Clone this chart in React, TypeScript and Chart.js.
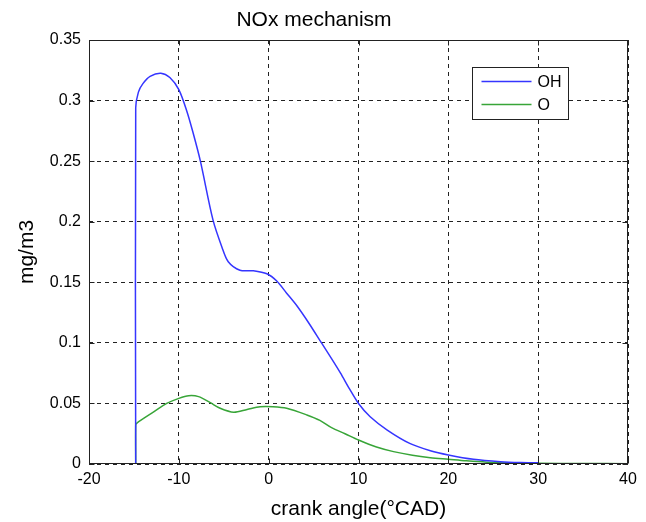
import React, { useEffect, useRef } from "react";
import { Chart, registerables } from "chart.js";

Chart.register(...registerables);

const chartTitle = "NOx mechanism";
const xAxisTitle = "crank angle(°CAD)";
const yAxisTitle = "mg/m3";
const seriesNames = ["OH", "O"];
const seriesColors = ["#3535ff", "#38a538"];

const xTickValues = [-20, -10, 0, 10, 20, 30, 40];
const yTickValues = [0, 0.05, 0.1, 0.15, 0.2, 0.25, 0.3, 0.35];
const yTickLabels = ["0", "0.05", "0.1", "0.15", "0.2", "0.25", "0.3", "0.35"];

const ohAngle = [
  -14.8, -14.8, -14.5, -14.0, -13.2, -12.0, -11.0, -10.0, -9.1, -8.4, -7.6, -6.2, -5.2, -4.5, -3.2, -1.7,
  -0.2, 0.9, 2.0, 3.2, 4.5, 5.9, 7.0, 8.0, 9.0, 10.0, 11.3, 13.2, 15.7, 18.0, 20.0, 22.8, 25.8, 28.0, 30.0,
];
const ohValue = [
  0, 0.294, 0.307, 0.314, 0.32, 0.3226, 0.319, 0.309, 0.291, 0.273, 0.25, 0.2015, 0.179, 0.167, 0.16, 0.1595,
  0.157, 0.151, 0.141, 0.13, 0.116, 0.0997, 0.087, 0.075, 0.062, 0.05, 0.039, 0.028, 0.017, 0.011, 0.0075,
  0.0039, 0.0019, 0.0012, 0.001,
];

const oAngle = [
  -14.8, -14.8, -14.7, -12.8, -11.35, -10.0, -8.9, -7.8, -6.5, -5.4, -3.9, -2.4, -0.95, 0.5, 2.0, 4.25, 5.7,
  7.0, 8.5, 10.0, 12.0, 13.9, 16.0, 18.0, 20.0, 22.0, 24.3, 27.0, 30.0, 35.0, 40.0,
];
const oValue = [
  0, 0.032, 0.0336, 0.043, 0.05, 0.0542, 0.0564, 0.0556, 0.0506, 0.046, 0.0427, 0.045, 0.0473, 0.0473, 0.046,
  0.0405, 0.036, 0.03, 0.025, 0.0198, 0.014, 0.0102, 0.0072, 0.0052, 0.0039, 0.0026, 0.0015, 0.0009, 0.0006,
  0.0004, 0.0003,
];

const FONT = "'Liberation Sans', Arial, Helvetica, sans-serif";

const framePlugin = {
  id: "matlabFrame",
  afterDraw(chart: any) {
    const { ctx, chartArea } = chart;
    const l = Math.round(chartArea.left) + 0.5;
    const r = Math.round(chartArea.right) - 0.5;
    const t = Math.round(chartArea.top) + 0.5;
    const b = Math.round(chartArea.bottom) - 0.5;
    ctx.save();
    ctx.setLineDash([]);
    ctx.strokeStyle = "#222";
    ctx.lineWidth = 1;
    ctx.strokeRect(l, t, r - l, b - t);
    const xs = chart.scales.x;
    const ys = chart.scales.y;
    const tl = 5;
    ctx.beginPath();
    xTickValues.forEach((v) => {
      const px = Math.round(xs.getPixelForValue(v)) + 0.5;
      ctx.moveTo(px, b);
      ctx.lineTo(px, b - tl);
      ctx.moveTo(px, t);
      ctx.lineTo(px, t + tl);
    });
    yTickValues.forEach((v) => {
      const py = Math.round(ys.getPixelForValue(v)) + 0.5;
      ctx.moveTo(l, py);
      ctx.lineTo(l + tl, py);
      ctx.moveTo(r, py);
      ctx.lineTo(r - tl, py);
    });
    ctx.stroke();

    // legend box inside axes (top-right)
    const bx = Math.round(chartArea.right - 156) + 0.5;
    const by = Math.round(chartArea.top + 27) + 0.5;
    const bw = 96;
    const bh = 52;
    ctx.fillStyle = "#fff";
    ctx.fillRect(bx, by, bw, bh);
    ctx.strokeStyle = "#222";
    ctx.strokeRect(bx, by, bw, bh);
    ctx.font = `16px ${FONT}`;
    ctx.textBaseline = "middle";
    ctx.textAlign = "left";
    chart.data.datasets.forEach((ds: any, i: number) => {
      const yy = by + 14 + i * 23;
      ctx.strokeStyle = ds.borderColor;
      ctx.lineWidth = 1.5;
      ctx.beginPath();
      ctx.moveTo(bx + 9, yy);
      ctx.lineTo(bx + 59, yy);
      ctx.stroke();
      ctx.fillStyle = "#000";
      ctx.fillText(ds.label, bx + 65, yy + 1);
    });
    ctx.restore();
  },
};

export default function App() {
  const canvasRef = useRef<HTMLCanvasElement | null>(null);

  useEffect(() => {
    if (!canvasRef.current) return;
    const toPoints = (xs: number[], ys: number[]) => xs.map((x, i) => ({ x, y: ys[i] }));
    const chart = new Chart(canvasRef.current, {
      type: "line",
      data: {
        datasets: [
          {
            label: seriesNames[0],
            data: toPoints(ohAngle, ohValue),
            borderColor: seriesColors[0],
            borderWidth: 1.5,
            pointRadius: 0,
            tension: 0.3,
            fill: false,
          },
          {
            label: seriesNames[1],
            data: toPoints(oAngle, oValue),
            borderColor: seriesColors[1],
            borderWidth: 1.5,
            pointRadius: 0,
            tension: 0.3,
            fill: false,
          },
        ],
      },
      options: {
        animation: false,
        responsive: true,
        maintainAspectRatio: false,
        layout: { padding: { left: 0, right: 18, top: 0, bottom: 0 } },
        plugins: {
          legend: { display: false },
          tooltip: { enabled: false },
          title: {
            display: true,
            text: chartTitle,
            color: "#000",
            font: { family: FONT, size: 21, weight: "normal", lineHeight: 1.2 },
            padding: { top: 8, bottom: 6.8 },
          },
        },
        scales: {
          x: {
            type: "linear",
            min: -20,
            max: 40,
            afterFit: (s: any) => {
              s.height = 58;
            },
            afterBuildTicks: (s: any) => {
              s.ticks = xTickValues.map((v) => ({ value: v }));
            },
            ticks: {
              color: "#000",
              font: { family: FONT, size: 16 },
              padding: 6,
              maxRotation: 0,
              autoSkip: false,
            },
            grid: { color: "#222", lineWidth: 1, drawTicks: false },
            border: { display: false, dash: [4, 4] },
            title: {
              display: true,
              text: xAxisTitle,
              color: "#000",
              font: { family: FONT, size: 21, lineHeight: 1.2 },
              padding: { top: 0, bottom: 0 },
            },
          },
          y: {
            type: "linear",
            min: 0,
            max: 0.35,
            afterFit: (s: any) => {
              s.width = 89;
            },
            afterBuildTicks: (s: any) => {
              s.ticks = yTickValues.map((v) => ({ value: v }));
            },
            ticks: {
              color: "#000",
              font: { family: FONT, size: 16 },
              padding: 8,
              autoSkip: false,
              callback: (v: any) => {
                const idx = yTickValues.findIndex((t) => Math.abs(t - Number(v)) < 1e-9);
                return idx >= 0 ? yTickLabels[idx] : "";
              },
            },
            grid: { color: "#222", lineWidth: 1, drawTicks: false },
            border: { display: false, dash: [4, 4] },
            title: {
              display: true,
              text: yAxisTitle,
              color: "#000",
              font: { family: FONT, size: 21, lineHeight: 1.2 },
              padding: { top: 15, bottom: 0 },
            },
          },
        },
      },
      plugins: [framePlugin],
    });
    return () => chart.destroy();
  }, []);

  return (
    <div style={{ position: "fixed", left: 0, top: 0, width: 646, height: 522, background: "#fff" }}>
      <canvas ref={canvasRef} />
    </div>
  );
}
